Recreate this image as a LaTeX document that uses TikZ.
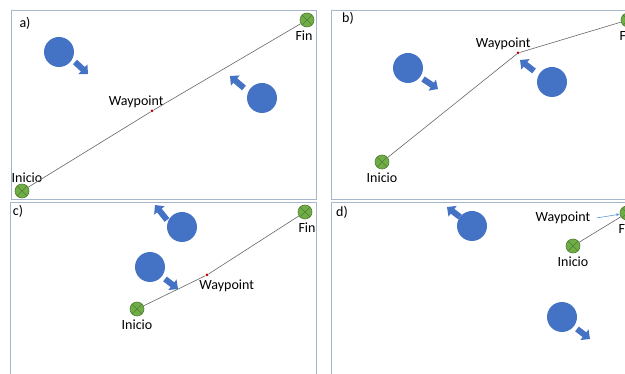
\documentclass[tikz,border=0pt]{standalone}
\usepackage{fontspec}
\setmainfont{Carlito}
\usetikzlibrary{arrows.meta,positioning}

\definecolor{obstblue}{HTML}{4472C4}
\definecolor{goalgreen}{HTML}{70AD47}
\definecolor{goaldark}{HTML}{507E32}
\definecolor{framegray}{HTML}{A6B6CC}
\definecolor{wpred}{HTML}{C00000}
\definecolor{hintblue}{HTML}{5B9BD5}

\begin{document}
\begin{tikzpicture}[
    x=1pt, y=-1pt,
    font=\fontsize{14}{16}\selectfont,
    node distance=1pt,
    panel/.style={
        draw=framegray,
        line width=0.9pt
    },
    obst/.style={
        circle,
        fill=obstblue,
        minimum size=30pt,
        inner sep=0pt
    },
    goal/.style={
        circle,
        draw=goaldark,
        fill=goalgreen,
        line width=0.6pt,
        minimum size=14pt,
        inner sep=0pt,
        path picture={
            \draw[goaldark, line width=0.6pt]
                (path picture bounding box.north west) -- (path picture bounding box.south east)
                (path picture bounding box.north east) -- (path picture bounding box.south west);
        }
    },
    wp/.style={
        circle,
        fill=wpred,
        minimum size=3pt,
        inner sep=0pt
    },
    txt/.style={
        inner sep=1pt
    },
    route/.style={
        draw=black!60,
        line width=0.6pt
    },
    push/.style={
        draw=obstblue,
        line width=6pt,
        -{Triangle[length=7pt,width=13pt]}
    },
    hint/.style={
        draw=hintblue,
        line width=0.6pt,
        -{Stealth[length=4pt,width=3pt]}
    }
]

\useasboundingbox (0,0) rectangle (625,374);
\clip (0,0) rectangle (625,374);

\draw[panel] (11,10) rectangle (316,199);
\draw[panel] (331,10) rectangle (640,199);
\draw[panel] (10,202) rectangle (316,380);
\draw[panel] (331,202) rectangle (640,380);

\node[txt] (la) at (25,23) {a)};
\node[txt] (lb) at (348,18) {b)};
\node[txt] (lc) at (18,211) {c)};
\node[txt] (ld) at (342,212) {d)};

\node[goal] (ia) at (22,191) {};
\node[goal] (fa) at (307,20) {};
\node[wp] (wa) at (152,111) {};
\node[obst] (oa1) at (59,52) {};
\node[obst] (oa2) at (262,98) {};
\node[txt, above=0pt of ia, xshift=5pt] (tia) {Inicio};
\node[txt, below=2pt of fa, xshift=-3pt] (tfa) {Fin};
\node[txt, above left=1pt and -14pt of wa] (twa) {Waypoint};

\draw[route] (ia) -- (wa) -- (fa);
\draw[push] ([shift={(16,10)}]oa1.center) -- ([shift={(29,22)}]oa1.center);
\draw[push] ([shift={(-18,-10)}]oa2.center) -- ([shift={(-32,-22)}]oa2.center);

\node[goal] (ib) at (382,162) {};
\node[goal] (fb) at (628,20) {};
\node[wp] (wb) at (518,53) {};
\node[obst] (ob1) at (408,68) {};
\node[obst] (ob2) at (552,82) {};
\node[txt, below=2pt of ib] (tib) {Inicio};
\node[txt, below=2pt of fb] (tfb) {Fin};
\node[txt, above left=1pt and -15pt of wb] (twb) {Waypoint};

\draw[route] (ib) -- (wb) -- (fb);
\draw[push] ([shift={(15,11)}]ob1.center) -- ([shift={(30,21)}]ob1.center);
\draw[push] ([shift={(-18,-11)}]ob2.center) -- ([shift={(-32,-22)}]ob2.center);

\node[goal] (ic) at (137,309) {};
\node[goal] (fc) at (305,212) {};
\node[wp] (wc) at (207,275) {};
\node[obst] (oc1) at (182,227) {};
\node[obst] (oc2) at (150,267) {};
\node[txt, below=2pt of ic] (tic) {Inicio};
\node[txt, below=2pt of fc, xshift=2pt] (tfc) {Fin};
\node[txt, below right=2pt and -10pt of wc] (twc) {Waypoint};

\draw[route] (ic) -- (wc) -- (fc);
\draw[push] ([shift={(-15,-7)}]oc1.center) -- ([shift={(-27,-22)}]oc1.center);
\draw[push] ([shift={(15,12)}]oc2.center) -- ([shift={(28,22)}]oc2.center);

\node[goal] (id) at (573,246) {};
\node[goal] (fd) at (627,213) {};
\node[obst] (od1) at (472,226) {};
\node[obst] (od2) at (562,317) {};
\node[txt, below=2pt of id] (tid) {Inicio};
\node[txt, below=2pt of fd] (tfd) {Fin};
\node[txt] (twd) at (563,218) {Waypoint};

\draw[route] (id) -- (fd);
\draw[hint] (twd.east) ++(5pt,0) coordinate (hd) (hd) -- (fd);
\draw[push] ([shift={(-12,-9)}]od1.center) -- ([shift={(-25,-19)}]od1.center);
\draw[push] ([shift={(15,12)}]od2.center) -- ([shift={(28,22)}]od2.center);

\end{tikzpicture}
\end{document}
